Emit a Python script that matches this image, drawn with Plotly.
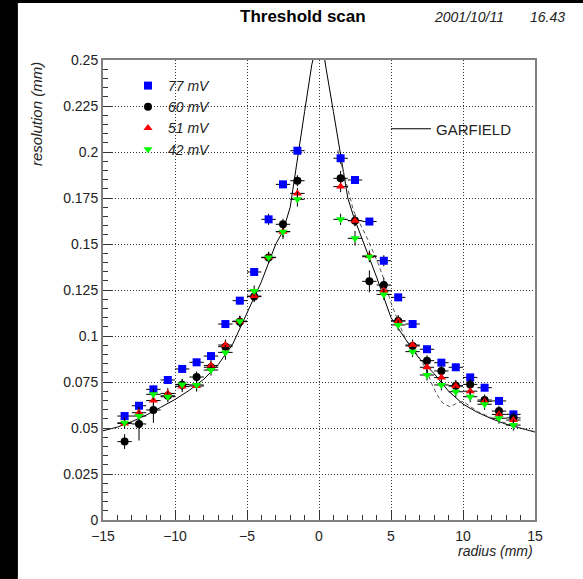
import plotly.graph_objects as go

# bin centres (mm) and measured resolution (mm) per threshold
radius = [-13.5, -12.5, -11.5, -10.5, -9.5, -8.5, -7.5, -6.5, -5.5, -4.5, -3.5, -2.5, -1.5,
          1.5, 2.5, 3.5, 4.5, 5.5, 6.5, 7.5, 8.5, 9.5, 10.5, 11.5, 12.5, 13.5]
bin_half_width = [0.5] * len(radius)

res_77 = [0.0565, 0.0621, 0.0710, 0.0761, 0.0821, 0.0857, 0.0891, 0.1065, 0.1192, 0.1348, 0.1634, 0.1824, 0.2007,
          0.1966, 0.1848, 0.1622, 0.1409, 0.1210, 0.1065, 0.0928, 0.0855, 0.0830, 0.0775, 0.0719, 0.0647, 0.0574]
err_77 = [0.002, 0.002, 0.002, 0.002, 0.002, 0.002, 0.002, 0.002, 0.002, 0.002, 0.003, 0.002, 0.002,
          0.003, 0.002, 0.002, 0.003, 0.002, 0.002, 0.002, 0.002, 0.002, 0.002, 0.002, 0.002, 0.002]

res_60 = [0.0426, 0.0522, 0.0598, 0.0675, 0.0735, 0.0777, 0.0830, 0.0942, 0.1078, 0.1214, 0.1426, 0.1607, 0.1844,
          0.1857, 0.1627, 0.1297, 0.1277, 0.1082, 0.0946, 0.0866, 0.0810, 0.0730, 0.0737, 0.0652, 0.0592, 0.0555]
err_60 = [0.004, 0.009, 0.007, 0.003, 0.003, 0.003, 0.003, 0.003, 0.003, 0.003, 0.003, 0.003, 0.003,
          0.004, 0.003, 0.006, 0.004, 0.003, 0.003, 0.003, 0.003, 0.003, 0.003, 0.003, 0.003, 0.003]

res_51 = [0.0525, 0.0583, 0.0649, 0.0688, 0.0725, 0.0728, 0.0839, 0.0951, 0.1080, 0.1217, 0.1428, 0.1567, 0.1775,
          0.1812, 0.1627, 0.1435, 0.1246, 0.1082, 0.0951, 0.0830, 0.0774, 0.0728, 0.0700, 0.0645, 0.0574, 0.0543]
err_51 = [0.003] * 26

res_42 = [0.0528, 0.0565, 0.0683, 0.0670, 0.0737, 0.0734, 0.0815, 0.0911, 0.1080, 0.1245, 0.1426, 0.1567, 0.1743,
          0.1634, 0.1531, 0.1431, 0.1226, 0.1060, 0.0915, 0.0788, 0.0734, 0.0697, 0.0670, 0.0629, 0.0553, 0.0516]
err_42 = [0.003, 0.003, 0.003, 0.003, 0.003, 0.003, 0.003, 0.004, 0.003, 0.003, 0.003, 0.004, 0.004,
          0.003, 0.004, 0.003, 0.003, 0.003, 0.003, 0.003, 0.003, 0.003, 0.003, 0.003, 0.003, 0.003]

# GARFIELD simulation
garf_r = [-15, -14, -13, -12, -11, -10, -9, -8, -7, -6, -5, -4, -3, -2.5, -2, -1.5, -1, -0.5, -0.3, 0,
          0.3, 0.5, 1, 1.5, 2, 2.4, 3, 3.5, 4, 5, 6, 6.5, 7, 8, 9, 10, 11, 12, 13, 14, 15]
garf_res = [0.0485, 0.0505, 0.0535, 0.0570, 0.0612, 0.0655, 0.0705, 0.0765, 0.0845, 0.0955, 0.1125, 0.1295,
            0.1500, 0.1570, 0.1700, 0.1970, 0.2220, 0.2475, 0.2540, 0.2700,
            0.2540, 0.2450, 0.2220, 0.1980, 0.1750, 0.1650, 0.1530, 0.1430, 0.1320, 0.1100, 0.0980,
            0.0925, 0.0875, 0.0795, 0.0700, 0.0630, 0.0585, 0.0550, 0.0520, 0.0497, 0.0478]

# second GARFIELD variant, positive side only
garf2_r = [1.3, 1.6, 2.0, 2.4, 3.3, 4.1, 4.5, 5.0, 5.5, 6.0, 7.0, 7.5, 7.8, 8.2, 8.6, 9.1, 9.45,
           10, 11, 12, 13, 14, 15]
garf2_res = [0.2010, 0.1920, 0.1795, 0.1680, 0.1540, 0.1395, 0.1310, 0.1180, 0.1080, 0.0985, 0.0880,
             0.0810, 0.0745, 0.0680, 0.0635, 0.0615, 0.0630, 0.0645, 0.0590, 0.0555, 0.0525, 0.0500, 0.0480]

series = [
    ("77 mV", res_77, err_77, "square", "#0000ff", 8),
    ("60 mV", res_60, err_60, "circle", "#000000", 8),
    ("51 mV", res_51, err_51, "triangle-up", "#ff0000", 8),
    ("42 mV", res_42, err_42, "triangle-down", "#00ff00", 8),
]

FONT = "Liberation Sans, Arial, Helvetica, sans-serif"
TXT = "#222222"

fig = go.Figure()

fig.add_trace(go.Scatter(
    x=garf_r, y=garf_res, mode="lines", name="GARFIELD",
    line=dict(color="#000000", width=1), legend="legend2",
))
fig.add_trace(go.Scatter(
    x=garf2_r, y=garf2_res, mode="lines", showlegend=False,
    line=dict(color="#555555", width=1, dash="4px,3px"),
))

for name, vals, errs, sym, col, size in series:
    fig.add_trace(go.Scatter(
        x=radius, y=vals, mode="markers", name=name,
        marker=dict(symbol=sym, color=col, size=size, line=dict(width=0)),
        error_x=dict(type="data", array=bin_half_width, color="#000000", thickness=1, width=0),
        error_y=dict(type="data", array=errs, color="#000000", thickness=1, width=0),
        legend="legend",
    ))

axis_common = dict(
    showline=True, mirror=True, linecolor="#808080", linewidth=2,
    showgrid=True, gridcolor="#333333", gridwidth=1, griddash="1px,2px",
    zeroline=False, ticks="inside", tickcolor="#333333", ticklen=10, tickwidth=1,
    tickfont=dict(family=FONT, size=14, color=TXT),
)

fig.update_xaxes(
    range=[-15, 15], dtick=5, tick0=-15, ticklabelstandoff=2,
    minor=dict(dtick=1, ticks="inside", ticklen=5, tickcolor="#333333", showgrid=False),
    **axis_common,
)
fig.update_yaxes(
    range=[0, 0.25], dtick=0.025, tick0=0,
    minor=dict(dtick=0.005, ticks="inside", ticklen=5, tickcolor="#333333", showgrid=False),
    **axis_common,
)

fig.update_layout(
    width=583, height=579,
    margin=dict(l=103, r=48, t=60, b=59),
    paper_bgcolor="white", plot_bgcolor="white",
    font=dict(family=FONT, color="#000000"),
    legend=dict(
        x=(128 - 103) / 432, y=(520 - 70) / 460, xanchor="left", yanchor="top",
        bgcolor="rgba(0,0,0,0)", itemwidth=30, tracegroupgap=0,
        font=dict(family=FONT, size=14, style="italic", color=TXT),
    ),
    legend2=dict(
        x=(386 - 103) / 432, y=(520 - 129) / 460, xanchor="left", yanchor="middle",
        bgcolor="rgba(0,0,0,0)", itemwidth=40,
        font=dict(family=FONT, size=15, color=TXT),
    ),
    shapes=[
        dict(type="rect", xref="paper", yref="paper", x0=-0.24, x1=-0.197, y0=-0.2, y1=1.14,
             fillcolor="black", line=dict(width=0), layer="above"),
        dict(type="rect", xref="paper", yref="paper", x0=-0.24, x1=1.12, y0=1.124, y1=1.14,
             fillcolor="black", line=dict(width=0), layer="above"),
    ],
    annotations=[
        dict(text="<b>Threshold scan</b>", xref="paper", yref="paper",
             x=(303 - 103) / 432, y=(520 - 17) / 460, xanchor="center", yanchor="middle",
             showarrow=False, font=dict(family=FONT, size=17, color="#000000")),
        dict(text="2001/10/11", xref="paper", yref="paper",
             x=(432 - 103) / 432, y=(520 - 17) / 460, xanchor="left", yanchor="middle",
             showarrow=False, font=dict(family=FONT, size=14, style="italic", color=TXT)),
        dict(text="16.43", xref="paper", yref="paper",
             x=(567 - 103) / 432, y=(520 - 17) / 460, xanchor="right", yanchor="middle",
             showarrow=False, font=dict(family=FONT, size=14, style="italic", color=TXT)),
        dict(text="resolution (mm)", xref="paper", yref="paper", textangle=-90,
             x=(36 - 103) / 432, y=1.0, xanchor="center", yanchor="top",
             showarrow=False, font=dict(family=FONT, size=15, style="italic", color=TXT)),
        dict(text="radius (mm)", xref="paper", yref="paper",
             x=1.0, y=(520 - 551) / 460, xanchor="right", yanchor="middle",
             showarrow=False, font=dict(family=FONT, size=14, style="italic", color=TXT)),
    ],
)

fig.write_html("out.html")
